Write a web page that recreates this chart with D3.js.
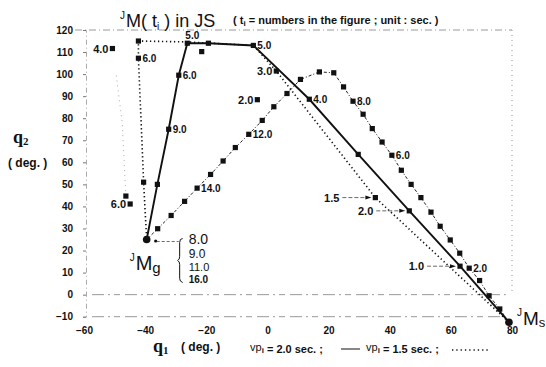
<!DOCTYPE html>
<html>
<head>
<meta charset="utf-8">
<title>JM(t) in JS</title>
<script src="https://cdn.jsdelivr.net/npm/d3@7"></script>
<style>
	body { margin: 0; background: #fff; }
	text { font-family: "Liberation Sans", Arial, sans-serif; fill: #111; }
	.tick text { font-size: 10px; font-weight: bold; }
	.tick line { stroke: #777; }
	.domain { stroke: #aaa; stroke-dasharray: 5,3,1,3; }
	.lbl { font-size: 10px; font-weight: bold; }
	.frame { stroke: #999; stroke-width: 1; fill: none; }
</style>
</head>
<body>
<svg id="chart" width="546" height="367"></svg>
<script>

//
// Data (q1, q2 in deg.)
//

var xTicks = [-60, -40, -20, 0, 20, 40, 60, 80];
var yTicks = [-10, 0, 10, 20, 30, 40, 50, 60, 70, 80, 90, 100, 110, 120];

// vp = 2.0 sec. (solid), from JMs to JMg
var solidQ1 = [79, 63, 46.4, 29.7, 13.7, -4.6, -19.3, -26.2, -29, -32.3, -36, -39.5];
var solidQ2 = [-12.5, 12.9, 38, 63.6, 88.6, 113, 114, 114, 99.5, 75, 50, 25];

// vp = 1.5 sec. (dotted)
var dottedQ1 = [79, 35.3, 2.9, -4.6, -26.2, -42.2, -42.2, -40.5, -39.5];
var dottedQ2 = [-12.5, 44, 101.4, 113, 114.6, 115, 107.2, 51, 25];
var dottedMarks = [1, 2, 5, 6, 7];

// dashed trajectory, one square every 0.5 sec.
var dashQ1 = [79, 76, 72.5, 69.4, 66, 62.9, 59.8, 56.5, 53.5, 50.2, 47, 43.8, 40.7, 37.5, 34.3, 31.3, 28,
	24.9, 21.7, 17, 10.8, 6.4, 2.1, -1.7, -6.1, -10.5, -14.5, -18.6, -23, -27.1, -31.5, -35.9, -39.5];
var dashQ2 = [-12.5, -6.5, -0.5, 6.4, 12, 18.8, 24.8, 31, 37.4, 44, 50, 56.4, 63.2, 69.2, 75.3, 81.8, 87.7,
	94.2, 100.6, 101, 97.6, 91.2, 85.2, 79, 72.7, 66.7, 60.6, 54.5, 48.3, 42.3, 35.9, 29.9, 25];

// loose squares
var extraQ1 = [-50.7, -44.9, -46.3, -3.3, -21.5];
var extraQ2 = [111.6, 41.1, 44.7, 88.4, 110.2];

// time labels to the right of a point
var rightText = ["5.0", "6.0", "9.0", "4.0", "6.0", "2.0", "6.0", "8.0", "12.0", "14.0"];
var rightQ1 = [-4.6, -29, -32.3, 13.7, -42.2, 66, 40.7, 28, -6.1, -23];
var rightQ2 = [113, 99.5, 75, 88.6, 107.2, 12, 63.2, 87.7, 72.7, 48.3];

// time labels to the left of a point
var leftText = ["3.0", "2.0", "4.0", "6.0"];
var leftQ1 = [2.9, -3.3, -50.7, -44.9];
var leftQ2 = [101.4, 88.4, 111.6, 41.1];

// time labels with an arrow
var arrowText = ["1.0", "2.0", "1.5"];
var arrowQ1 = [63, 46.4, 35.3];
var arrowQ2 = [12.9, 38, 44];

// arrival times at JMg
var goalTimes = ["8.0", "9.0", "11.0", "16.0"];

//
// Draw
//

var svg = d3.select("#chart");

var x = d3.scaleLinear().domain([-60, 80]).range([84, 512]);
var y = d3.scaleLinear().domain([-10, 120]).range([316.7, 30]);

// faint frame / grid lines
var frameG = svg.append("g");
frameG.append("line").attr("class", "frame")
	.attr("x1", 75).attr("x2", x(80)).attr("y1", y(120)).attr("y2", y(120))
	.attr("stroke-dasharray", "7,3,1,3");
frameG.append("line").attr("class", "frame")
	.attr("x1", x(80)).attr("x2", x(80)).attr("y1", y(120)).attr("y2", y(0))
	.attr("stroke-dasharray", "1,4");
[0, -10].forEach(function(v) {
	frameG.append("line").attr("class", "frame")
		.attr("x1", 92).attr("x2", x(78)).attr("y1", y(v)).attr("y2", y(v))
		.attr("stroke-dasharray", "12,4,2,4,6,5");
});

// axes
svg.append("g")
	.attr("transform", "translate(86,0)")
	.call(d3.axisLeft(y).tickValues(yTicks).tickSize(3).tickPadding(10));
svg.append("g")
	.attr("transform", "translate(0,325)")
	.call(d3.axisBottom(x).tickValues(xTicks).tickSize(0).tickPadding(2))
	.call(function(g) { g.select(".domain").remove(); });

// trajectories
var line = d3.line()
	.x(function(d) { return x(d[0]); })
	.y(function(d) { return y(d[1]); });

var dashPts = dashQ1.map(function(d, i) { return [d, dashQ2[i]]; });
var solidPts = solidQ1.map(function(d, i) { return [d, solidQ2[i]]; });
var dottedPts = dottedQ1.map(function(d, i) { return [d, dottedQ2[i]]; });

svg.append("path").datum(dashPts).attr("d", line)
	.attr("fill", "none").attr("stroke", "#222").attr("stroke-width", 1)
	.attr("stroke-dasharray", "3,2,1,2");
svg.append("path").datum(dottedPts).attr("d", line)
	.attr("fill", "none").attr("stroke", "#111").attr("stroke-width", 1.6)
	.attr("stroke-dasharray", "1.3,2.7");
svg.append("path").datum(solidPts).attr("d", line)
	.attr("fill", "none").attr("stroke", "#111").attr("stroke-width", 1.9);

// faint trace on the left
svg.append("path").datum([[-46.3, 44.7], [-47.5, 78], [-49.5, 100]]).attr("d", line)
	.attr("fill", "none").attr("stroke", "#aaa").attr("stroke-width", 1)
	.attr("stroke-dasharray", "1,4");

// square markers
var squares = dashPts.slice(1, -1)
	.concat(solidPts.slice(1, -1))
	.concat(dottedMarks.map(function(i) { return dottedPts[i]; }))
	.concat(extraQ1.map(function(d, i) { return [d, extraQ2[i]]; }));

svg.selectAll(".sq")
	.data(squares)
	.enter().append("rect")
		.attr("class", "sq")
		.attr("x", function(d) { return x(d[0]) - 2.6; })
		.attr("y", function(d) { return y(d[1]) - 2.6; })
		.attr("width", 5.2)
		.attr("height", 5.2)
		.attr("fill", "#111");

// end points JMs, JMg
var endPts = [solidPts[0], solidPts[solidPts.length - 1]];
svg.selectAll(".endpt")
	.data(endPts)
	.enter().append("circle")
		.attr("cx", function(d) { return x(d[0]); })
		.attr("cy", function(d) { return y(d[1]); })
		.attr("r", 3.8)
		.attr("fill", "#111");

// time labels
svg.selectAll(".rl")
	.data(rightText)
	.enter().append("text")
		.attr("class", "lbl")
		.attr("x", function(d, i) { return x(rightQ1[i]) + 4; })
		.attr("y", function(d, i) { return y(rightQ2[i]) + 4; })
		.text(function(d) { return d; });

svg.append("text").attr("class", "lbl")
	.attr("x", x(solidQ1[7]) - 2).attr("y", y(solidQ2[7]) - 4)
	.text("5.0");

svg.selectAll(".ll")
	.data(leftText)
	.enter().append("text")
		.attr("class", "lbl")
		.attr("text-anchor", "end")
		.style("font-size", "11px")
		.attr("x", function(d, i) { return x(leftQ1[i]) - 4; })
		.attr("y", function(d, i) { return y(leftQ2[i]) + 4; })
		.text(function(d) { return d; });

// labels with arrows
var arrowG = svg.selectAll(".arr")
	.data(arrowText)
	.enter().append("g");
arrowG.append("text")
	.attr("class", "lbl")
	.style("font-size", "11px")
	.attr("text-anchor", "end")
	.attr("x", function(d, i) { return x(arrowQ1[i]) - 36; })
	.attr("y", function(d, i) { return y(arrowQ2[i]) + 4; })
	.text(function(d) { return d; });
arrowG.append("line")
	.attr("x1", function(d, i) { return x(arrowQ1[i]) - 33; })
	.attr("x2", function(d, i) { return x(arrowQ1[i]) - 8; })
	.attr("y1", function(d, i) { return y(arrowQ2[i]); })
	.attr("y2", function(d, i) { return y(arrowQ2[i]); })
	.attr("stroke", "#444").attr("stroke-width", 0.8)
	.attr("stroke-dasharray", "4,2");
arrowG.append("path")
	.attr("d", function(d, i) {
		var px = x(arrowQ1[i]) - 4, py = y(arrowQ2[i]);
		return "M" + px + "," + py + "L" + (px - 6) + "," + (py - 2) + "L" + (px - 6) + "," + (py + 2) + "Z";
	})
	.attr("fill", "#111");

// JMg bracket with arrival times
var gx = x(solidQ1[solidQ1.length - 1]);
var gy = y(solidQ2[solidQ2.length - 1]);
svg.append("circle").attr("cx", gx + 9).attr("cy", gy + 1.5).attr("r", 1.6).attr("fill", "#111");
svg.append("line")
	.attr("x1", gx + 10).attr("x2", gx + 32).attr("y1", gy + 2).attr("y2", gy + 2)
	.attr("stroke", "#444").attr("stroke-width", 0.8).attr("stroke-dasharray", "3,2");
svg.append("path")
	.attr("d", "M" + (gx + 36) + "," + (gy - 1) + "q-3,0 -3,4 v14 q0,3 -2,4 q2,1 2,4 v14 q0,3 3,4")
	.attr("fill", "none").attr("stroke", "#111").attr("stroke-width", 1);
var goalSize = [14, 12, 11, 10];
var goalY = [4, 18, 31, 43];
svg.selectAll(".gt")
	.data(goalTimes)
	.enter().append("text")
		.attr("x", gx + 42)
		.attr("y", function(d, i) { return gy + goalY[i]; })
		.style("font-size", function(d, i) { return goalSize[i] + "px"; })
		.style("font-weight", function(d, i) { return i === 3 ? "bold" : "normal"; })
		.text(function(d) { return d; });

// JMg / JMs names
var mg = svg.append("text").attr("x", gx - 17).attr("y", gy + 30).style("font-size", "20px");
mg.append("tspan").style("font-size", "10px").attr("dy", -9).text("J");
mg.append("tspan").attr("dy", 9).attr("dx", 1).text("M");
mg.append("tspan").style("font-size", "15px").attr("dy", 3).text("g");

var sx = x(solidQ1[0]), sy = y(solidQ2[0]);
var ms = svg.append("text").attr("x", sx + 8).attr("y", sy + 3).style("font-size", "19px");
ms.append("tspan").style("font-size", "10px").attr("dy", -9).text("J");
ms.append("tspan").attr("dy", 9).attr("dx", 1).text("M");
ms.append("tspan").style("font-size", "13px").attr("dy", 2).text("s");

// title
var t1 = svg.append("text").attr("x", 120).attr("y", 27).style("font-size", "18px");
t1.append("tspan").style("font-size", "10px").attr("dy", -8).text("J");
t1.append("tspan").attr("dy", 8).attr("dx", 1).text("M( t");
t1.append("tspan").style("font-size", "10px").attr("dy", 3).text("i");
t1.append("tspan").attr("dy", -3).text(" )  in JS");

var t2 = svg.append("text").attr("x", 233).attr("y", 24).style("font-size", "11px").style("font-weight", "bold");
t2.append("tspan").text("( t");
t2.append("tspan").style("font-size", "8px").attr("dy", 2).text("i");
t2.append("tspan").attr("dy", -2).text(" = numbers in the figure  ;   unit : sec. )");

// axis titles
var q2 = svg.append("text").attr("x", 13).attr("y", 143)
	.style("font-family", "'Liberation Serif', serif").style("font-weight", "bold").style("font-size", "18px");
q2.append("tspan").text("q");
q2.append("tspan").style("font-size", "11px").attr("dy", 2).text("2");
svg.append("text").attr("x", 8).attr("y", 167)
	.style("font-size", "12px").style("font-weight", "bold").text("( deg. )");

var q1 = svg.append("text").attr("x", 153).attr("y", 352)
	.style("font-family", "'Liberation Serif', serif").style("font-weight", "bold").style("font-size", "18px");
q1.append("tspan").text("q");
q1.append("tspan").style("font-size", "11px").attr("dy", 2).text("1");
svg.append("text").attr("x", 181).attr("y", 351)
	.style("font-size", "12px").style("font-weight", "bold").text("( deg. )");

// legend
var leg = svg.append("text").attr("x", 250).attr("y", 353).style("font-size", "11px").style("font-weight", "bold");
leg.append("tspan").attr("dy", -2).style("font-weight", "normal").text("vp");
leg.append("tspan").style("font-size", "8px").attr("dy", 2).text("i");
leg.append("tspan").text(" = 2.0 sec. ;");
leg.append("tspan").attr("x", 366).attr("dy", -2).style("font-weight", "normal").text("vp");
leg.append("tspan").style("font-size", "8px").attr("dy", 2).text("i");
leg.append("tspan").text(" = 1.5 sec. ;");
svg.append("line").attr("x1", 341).attr("x2", 360).attr("y1", 349).attr("y2", 349)
	.attr("stroke", "#111").attr("stroke-width", 1);
svg.append("line").attr("x1", 452).attr("x2", 490).attr("y1", 350).attr("y2", 350)
	.attr("stroke", "#111").attr("stroke-width", 1.3).attr("stroke-dasharray", "1.3,3");

</script>
</body>
</html>
